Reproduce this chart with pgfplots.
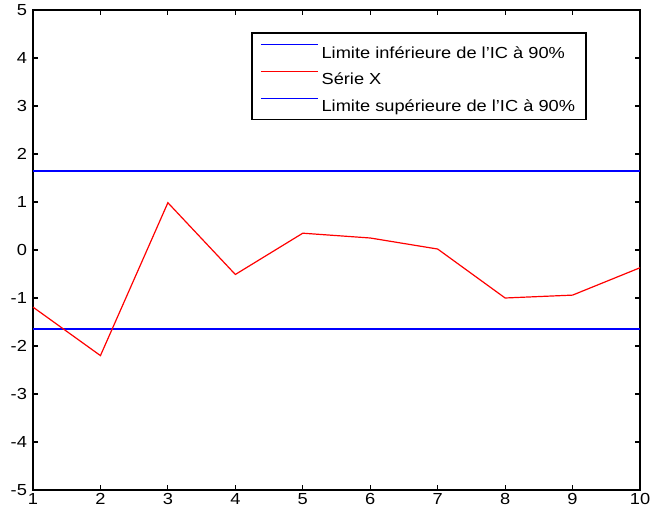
\documentclass[border=0pt]{standalone}
\usepackage{pgfplots}
\pgfplotsset{compat=1.18}
\usepackage{fontspec}
\setmainfont[FakeStretch=1.14]{Liberation Sans}
\definecolor{mblue}{rgb}{0,0,1}
\definecolor{mred}{rgb}{1,0,0}
\begin{document}
\begin{tikzpicture}
\begin{axis}[
  scale only axis,
  width=455.25pt, height=360pt,
  xmin=1, xmax=10, ymin=-5, ymax=5,
  xtick={1,...,10}, ytick={-5,...,5},
  tick align=inside,
  major tick length=3.75pt,
  axis line style={line width=1.2pt},
  tick style={line width=0.9pt, black},
  ticklabel style={font=\fontsize{12}{14}\selectfont},
  /pgf/number format/assume math mode=true,
  xticklabel style={yshift=1pt},
  yticklabel style={xshift=-1pt},
  legend style={at={(0.361,0.952)}, anchor=north west, draw=none, fill=none,
    name=leg,
    font=\fontsize{12}{14}\selectfont, inner xsep=6pt, inner ysep=2.2pt, row sep=0pt,
    cells={anchor=west, text height=14.5pt, text depth=5.5pt, inner ysep=0pt}},
  legend cell align=left,
  legend image code/.code={%
    \draw[#1, line width=0.9pt] (0pt,3.5pt) -- (43pt,3.5pt);},
]
\coordinate (bbsw) at (rel axis cs:0,0);
\coordinate (bbne) at (rel axis cs:1,1);
\addplot[draw=mblue, line width=0.9pt] coordinates {(1,-1.645) (10,-1.645)};
\addlegendentry{Limite inférieure de l'IC à 90\%}
\addplot[draw=mred, line width=0.9pt] coordinates {
(1,-1.19) (2,-2.2) (3,0.985) (4,-0.51) (5,0.35) (6,0.25) (7,0.02) (8,-1.0) (9,-0.94) (10,-0.37)};
\addlegendentry{Série X}
\addplot[draw=mblue, line width=0.9pt] coordinates {(1,1.645) (10,1.645)};
\addlegendentry{Limite supérieure de l'IC à 90\%}
\end{axis}
\draw[black, line width=1.1pt] (leg.south west) rectangle (leg.north east);
\pgfresetboundingbox
\path[use as bounding box] ([shift={(-24.75pt,-19.5pt)}]bbsw) rectangle ([shift={(7.5pt,7.5pt)}]bbne);
\end{tikzpicture}
\end{document}
